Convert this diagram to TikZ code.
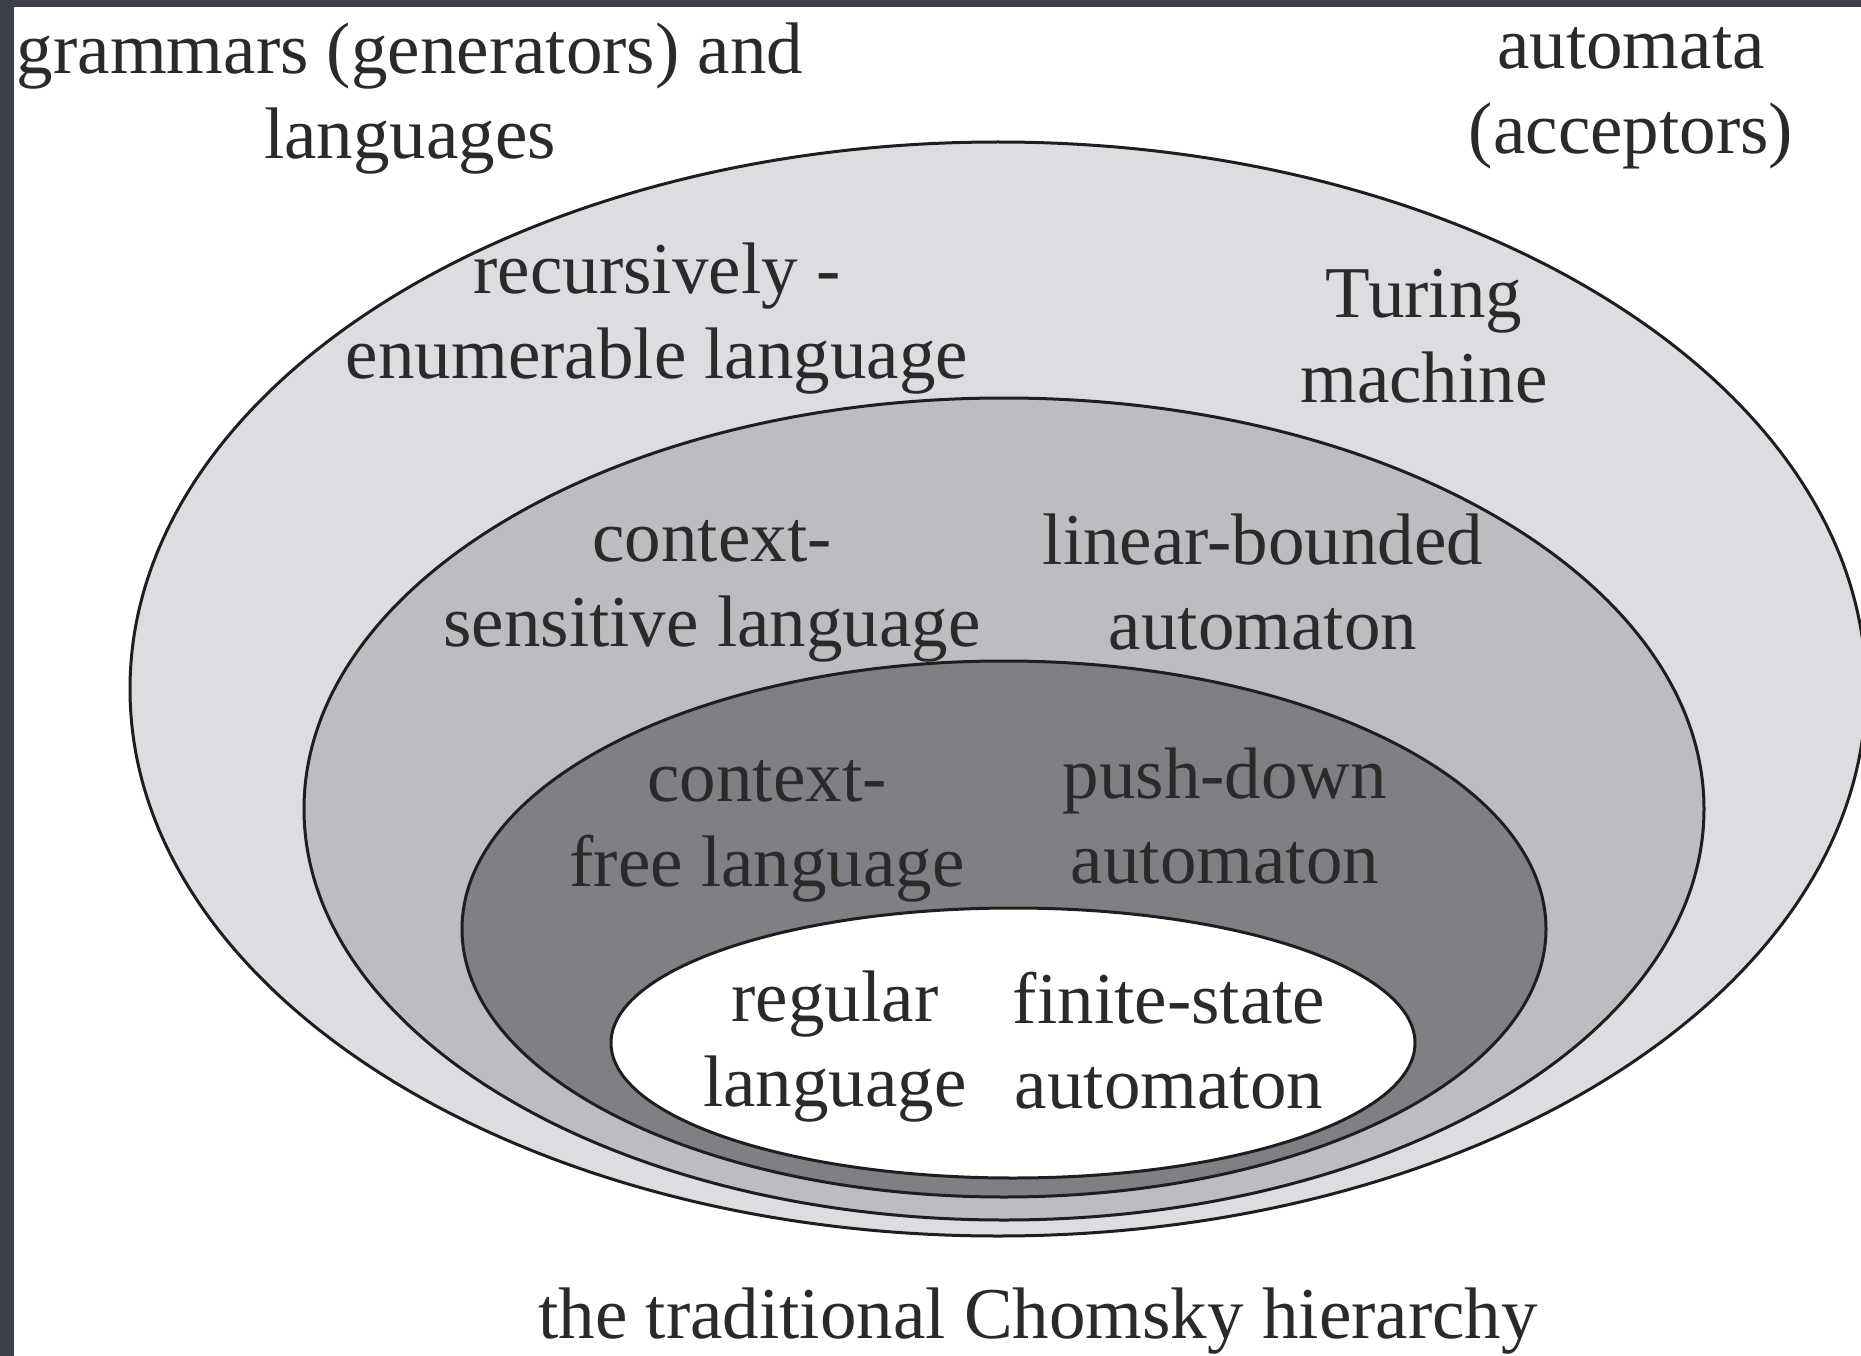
\documentclass[tikz,border=0pt]{standalone}
\usepackage{fontspec}
\setmainfont{Liberation Serif}
\usetikzlibrary{shapes.geometric}
\definecolor{frame}{HTML}{3C414C}
\definecolor{cRE}{HTML}{DCDDE0}
\definecolor{cCS}{HTML}{BCBDC1}
\definecolor{cCF}{HTML}{7F8085}
\definecolor{txt}{HTML}{2A2A2A}
\definecolor{edge}{HTML}{1E1E1E}
\newcommand{\twoline}[2]{\begin{tabular}[t]{@{}c@{}}#1\\#2\end{tabular}}
\begin{document}
\begin{tikzpicture}[x=1pt,y=-1pt,
  lang/.style={ellipse, draw=edge, line width=3pt, inner sep=0pt},
  lbl/.style={anchor=base, inner sep=0pt, text=txt, font=\fontsize{73}{85}\selectfont}]
\useasboundingbox (0,0) rectangle (1861,1356);
\fill[white] (0,0) rectangle (1861,1356);
\fill[frame] (0,0) rectangle (14,1356);
\fill[frame] (0,0) rectangle (1861,7);
\node[lang, fill=cRE, minimum width=1736pt, minimum height=1094pt] (re) at (998,689) {};
\node[lang, fill=cCS, minimum width=1400pt, minimum height=822pt] (cs) at (1004,809) {};
\node[lang, fill=cCF, minimum width=1084pt, minimum height=536pt] (cf) at (1004,929) {};
\node[lang, fill=white, minimum width=804pt, minimum height=270pt] (rg) at (1013,1043) {};
\node[lbl] (gram) at (410,74) {\twoline{grammars (generators) and}{languages}};
\node[lbl] (auto) at (1631,69) {\twoline{automata}{(acceptors)}};
\node[lbl] (rel) at (657,294) {\twoline{recursively -}{enumerable language}};
\node[lbl] (tm) at (1424,318) {\twoline{Turing}{machine}};
\node[lbl] (csl) at (712,561) {\twoline{context-}{sensitive language}};
\node[lbl] (lba) at (1263,564) {\twoline{linear-bounded}{automaton}};
\node[lbl] (cfl) at (767,801) {\twoline{context-}{free language}};
\node[lbl] (pda) at (1225,798) {\twoline{push-down}{automaton}};
\node[lbl] (rl) at (835,1021) {\twoline{regular}{language}};
\node[lbl] (fsa) at (1169,1023) {\twoline{finite-state}{automaton}};
\node[lbl] (title) at (1038,1338) {the traditional Chomsky hierarchy};
\end{tikzpicture}
\end{document}
